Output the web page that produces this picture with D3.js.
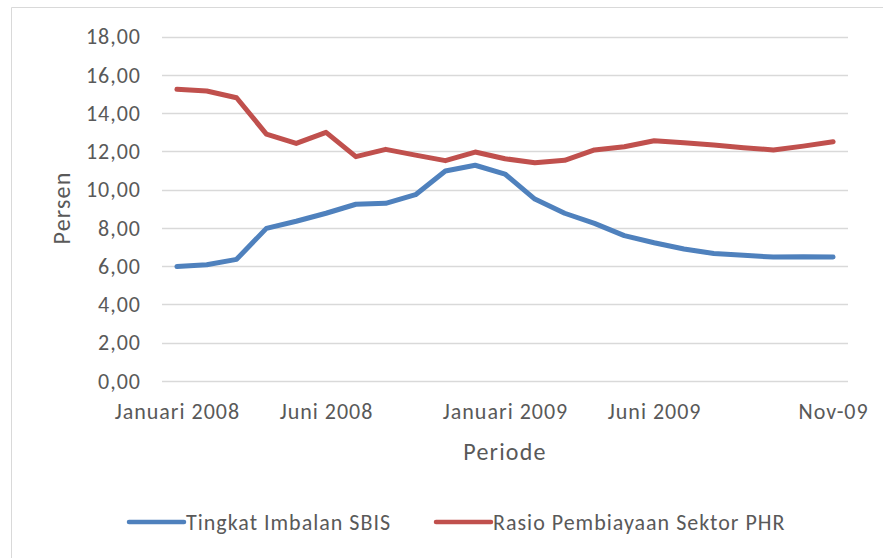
<!DOCTYPE html>
<html>
<head>
<meta charset="utf-8">
<script src="https://cdn.jsdelivr.net/npm/d3@7"></script>
<style>
  body { margin: 0; background: #fff; }
  text { font-family: Carlito, Calibri, Lato, sans-serif; fill: #595959; letter-spacing: 1px; }
</style>
</head>
<body>
<div id="chart"></div>
<script>
var width = 883
var height = 558

// category labels as in the source sheet (empty = no label shown)
var categories = [
  "Januari 2008", "", "", "", "", "Juni 2008",
  "", "", "", "", "", "Januari 2009",
  "", "", "", "", "Juni 2009", "",
  "", "", "", "", "Nov-09"
]
var sbis = [5.98, 6.08, 6.36, 7.98, 8.35, 8.77, 9.24, 9.29, 9.74, 10.98, 11.28, 10.82,
            9.51, 8.77, 8.24, 7.60, 7.23, 6.90, 6.67, 6.57, 6.48, 6.50, 6.48]
var phr = [15.25, 15.16, 14.81, 12.91, 12.42, 13.00, 11.73, 12.11, 11.81, 11.52, 11.97, 11.62,
           11.41, 11.54, 12.08, 12.25, 12.56, 12.46, 12.34, 12.20, 12.08, 12.28, 12.51]
var yTicks = [0, 2, 4, 6, 8, 10, 12, 14, 16, 18]

var series = [
  {name: "Tingkat Imbalan SBIS", values: sbis, color: "#4f81bd"},
  {name: "Rasio Pembiayaan Sektor PHR", values: phr, color: "#c0504d"}
]

var svg = d3.select("#chart").append("svg")
  .attr("width", width)
  .attr("height", height)

// chart frame (only left/top edges visible)
svg.append("path")
  .attr("d", "M11.5,558V7.5H883")
  .attr("fill", "none")
  .attr("stroke", "#d9d9d9")

var x = d3.scalePoint()
  .domain(d3.range(categories.length))
  .range([162, 848])
  .padding(0.5)
var y = d3.scaleLinear()
  .domain([0, 18])
  .range([381, 36.7])

// gridlines
svg.append("g")
  .selectAll("line")
  .data(yTicks).enter()
  .append("line")
    .attr("x1", 162)
    .attr("x2", 848)
    .attr("y1", function(d){return Math.round(y(d)) + 0.5})
    .attr("y2", function(d){return Math.round(y(d)) + 0.5})
    .attr("stroke", "#d9d9d9")
    .attr("stroke-width", 1.5)

var fmt = function(d){return d3.format(".2f")(d).replace(".", ",")}

var yAxis = svg.append("g")
  .attr("transform", "translate(162,0)")
  .call(d3.axisLeft(y).tickValues(yTicks).tickFormat(fmt).tickSize(0).tickPadding(21))
yAxis.select(".domain").remove()
yAxis.selectAll("text")
  .attr("font-size", 22)
  .attr("fill", "#595959")
  .style("font-family", "Carlito, Calibri, Lato, sans-serif")

var xAxis = svg.append("g")
  .attr("transform", "translate(0,381)")
  .call(d3.axisBottom(x)
    .tickValues(d3.range(categories.length).filter(function(i){return categories[i]}))
    .tickFormat(function(i){return categories[i]})
    .tickSize(0).tickPadding(22))
xAxis.select(".domain").remove()
xAxis.selectAll("text")
  .attr("font-size", 22)
  .attr("fill", "#595959")
  .style("font-family", "Carlito, Calibri, Lato, sans-serif")

// axis titles
svg.append("text")
  .attr("transform", "translate(70,208) rotate(-90)")
  .attr("text-anchor", "middle")
  .attr("font-size", 24)
  .style("letter-spacing", "1.2px")
  .text("Persen")
svg.append("text")
  .attr("x", 505)
  .attr("y", 460)
  .attr("text-anchor", "middle")
  .attr("font-size", 24)
  .style("letter-spacing", "1.2px")
  .text("Periode")

var line = d3.line()
  .x(function(d, i){return x(i)})
  .y(function(d){return y(d)})

svg.selectAll("path.series")
  .data(series).enter()
  .append("path")
    .classed("series", true)
    .attr("d", function(s){return line(s.values)})
    .attr("fill", "none")
    .attr("stroke", function(s){return s.color})
    .attr("stroke-width", 5)
    .attr("stroke-linecap", "round")
    .attr("stroke-linejoin", "round")

// legend
var legendX = [128, 435]
var lg = svg.selectAll("g.legend")
  .data(series).enter()
  .append("g")
    .classed("legend", true)
    .attr("transform", function(s, i){return "translate(" + legendX[i] + ",522)"})
lg.append("line")
  .attr("x1", 1)
  .attr("x2", 56)
  .attr("stroke", function(s){return s.color})
  .attr("stroke-width", 4.5)
  .attr("stroke-linecap", "round")
lg.append("text")
  .attr("x", 58)
  .attr("dy", "0.35em")
  .attr("font-size", 22)
  .text(function(s){return s.name})
</script>
</body>
</html>
